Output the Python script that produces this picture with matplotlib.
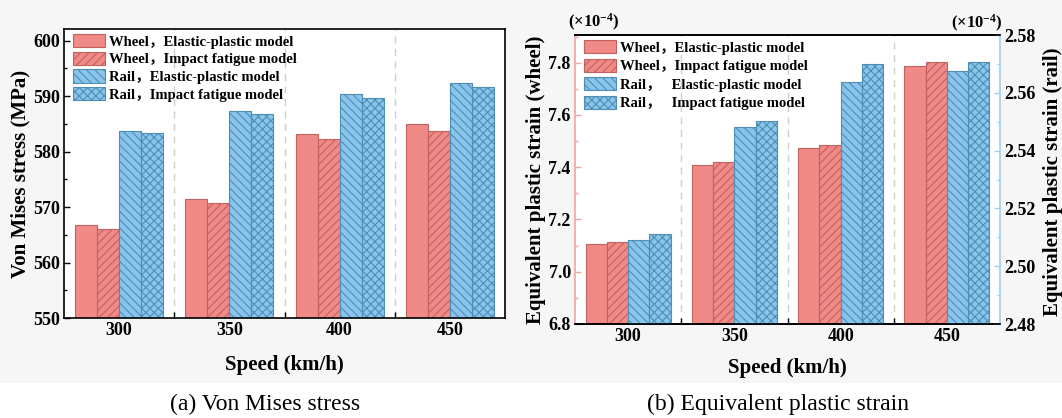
import matplotlib
matplotlib.use('Agg')
import matplotlib.pyplot as plt
import numpy as np
from matplotlib.patches import Rectangle, Patch
from matplotlib.ticker import MultipleLocator, FixedLocator, FormatStrFormatter

plt.rcParams['font.family'] = ['Liberation Serif', 'Noto Sans CJK SC']
plt.rcParams['mathtext.fontset'] = 'custom'
plt.rcParams['mathtext.rm'] = 'Liberation Serif'
plt.rcParams['mathtext.bf'] = 'Liberation Serif:bold'
plt.rcParams['mathtext.default'] = 'bf'
plt.rcParams['hatch.linewidth'] = 0.8

# ---------------- data ----------------
speeds = ['300', '350', '400', '450']
labels_a = ['Wheel，Elastic-plastic model', 'Wheel，Impact fatigue model',
            'Rail，Elastic-plastic model', 'Rail，Impact fatigue model']
labels_b = ['Wheel，Elastic-plastic model', 'Wheel，Impact fatigue model',
            'Rail，   Elastic-plastic model', 'Rail，   Impact fatigue model']

# (a) Von Mises stress (MPa)
stress_wheel_ep = [566.8, 571.4, 583.2, 585.0]
stress_wheel_if = [566.1, 570.7, 582.2, 583.7]
stress_rail_ep = [583.8, 587.3, 590.3, 592.4]
stress_rail_if = [583.3, 586.7, 589.7, 591.6]

# (b) Equivalent plastic strain (x1e-4)
strain_wheel_ep = [7.108, 7.410, 7.474, 7.786]
strain_wheel_if = [7.114, 7.420, 7.484, 7.803]
strain_rail_ep = [2.5091, 2.5480, 2.5639, 2.5676]
strain_rail_if = [2.5110, 2.5501, 2.5699, 2.5708]

# ---------------- style ----------------
W = 1062.0
H = 418.0
wheel_fc = '#F08A87'
wheel_ec = '#C0625F'
rail_fc = '#88C4EC'
rail_ec = '#4F8DB3'
pink_spine = '#F4A3A3'
blue_spine = '#9FD0F3'
hatches = [None, '////', '\\\\\\\\', 'xxxx']
fcs = [wheel_fc, wheel_fc, rail_fc, rail_fc]
ecs = [wheel_ec, wheel_ec, rail_ec, rail_ec]
offsets = [-0.3, -0.1, 0.1, 0.3]
bw = 0.2
TICK = 13
LAB = 15
LEG = 10.5

fig = plt.figure(figsize=(W / 100, H / 100), dpi=100, facecolor='white')
fig.patches.append(Rectangle((0, 1 - 383 / H), 1, 383 / H, transform=fig.transFigure,
                             facecolor='#f6f6f6', edgecolor='none', zorder=-10))


def px(x0, y0, x1, y1):
    return [x0 / W, 1 - y1 / H, (x1 - x0) / W, (y1 - y0) / H]


x = np.arange(len(speeds))


def common_x(ax):
    ax.set_xlim(-0.5, 3.5)
    ax.set_xticks(x)
    ax.set_xticklabels(speeds, fontsize=TICK, fontweight='bold')
    ax.xaxis.set_minor_locator(FixedLocator([0.5, 1.5, 2.5]))
    ax.tick_params(axis='x', which='major', length=0, pad=3)
    ax.tick_params(axis='x', which='minor', direction='in', length=4, width=1)
    for b in [0.5, 1.5, 2.5]:
        ax.axvline(b, color='#cfcfcf', lw=1.0, ls=(0, (5, 4)), zorder=0.5)


# ---------------- panel (a) ----------------
ax = fig.add_axes(px(64, 29, 505, 318))
ax.set_facecolor('white')
vals_a = [stress_wheel_ep, stress_wheel_if, stress_rail_ep, stress_rail_if]
for i in range(4):
    ax.bar(x + offsets[i], vals_a[i], bw, color=fcs[i], edgecolor=ecs[i],
           hatch=hatches[i], linewidth=0.8, zorder=2)
ax.set_ylim(550, 602.1)
ax.yaxis.set_major_locator(MultipleLocator(10))
ax.yaxis.set_minor_locator(MultipleLocator(5))
ax.tick_params(axis='y', which='major', direction='in', length=4, width=1, pad=3, labelsize=TICK)
ax.tick_params(axis='y', which='minor', direction='in', length=2.5, width=1)
for lab in ax.get_yticklabels():
    lab.set_fontweight('bold')
common_x(ax)
for s in ax.spines.values():
    s.set_linewidth(1.2)
    s.set_color('black')

handles_a = [Patch(facecolor=fcs[i], edgecolor=ecs[i], hatch=hatches[i], linewidth=0.8, label=labels_a[i])
             for i in range(4)]
ax.legend(handles=handles_a, loc='upper left', bbox_to_anchor=(72.5 / W, 1 - 34 / H),
          bbox_transform=fig.transFigure, frameon=False, borderpad=0, borderaxespad=0,
          prop={'size': LEG, 'weight': 'bold'}, handlelength=2.2, handleheight=1.0,
          handletextpad=0.3, labelspacing=0.22)

fig.text(284.5 / W, 1 - 365 / H, 'Speed (km/h)', ha='center', va='center', fontsize=LAB, fontweight='bold')
fig.text(20 / W, 1 - 174 / H, 'Von Mises stress (MPa)', ha='center', va='center', rotation=90,
         fontsize=LAB, fontweight='bold')
fig.text(265 / W, 1 - 404 / H, '(a) Von Mises stress', ha='center', va='center', fontsize=17)

# ---------------- panel (b) ----------------
bx = fig.add_axes(px(575, 35, 1000, 324))
bx.set_facecolor('white')
bx2 = bx.twinx()
vals_w = [strain_wheel_ep, strain_wheel_if]
vals_r = [strain_rail_ep, strain_rail_if]
for i in range(2):
    bx.bar(x + offsets[i], vals_w[i], bw, color=fcs[i], edgecolor=ecs[i],
           hatch=hatches[i], linewidth=0.8, zorder=2)
for j in range(2):
    i = j + 2
    bx2.bar(x + offsets[i], vals_r[j], bw, color=fcs[i], edgecolor=ecs[i],
            hatch=hatches[i], linewidth=0.8, zorder=2)
bx.set_ylim(6.8, 7.906)
bx2.set_ylim(2.48, 2.58)
bx.yaxis.set_major_locator(MultipleLocator(0.2))
bx.yaxis.set_minor_locator(MultipleLocator(0.1))
bx2.yaxis.set_major_locator(MultipleLocator(0.02))
bx2.yaxis.set_minor_locator(MultipleLocator(0.01))
bx.yaxis.set_major_formatter(FormatStrFormatter('%.1f'))
bx2.yaxis.set_major_formatter(FormatStrFormatter('%.2f'))
bx.tick_params(axis='y', which='major', direction='in', length=4, width=1, pad=3,
               labelsize=TICK, color=pink_spine)
bx.tick_params(axis='y', which='minor', direction='in', length=2.5, width=1, color=pink_spine)
bx2.tick_params(axis='y', which='major', direction='in', length=4, width=1, pad=3,
                labelsize=TICK, color=blue_spine)
bx2.tick_params(axis='y', which='minor', direction='in', length=2.5, width=1, color=blue_spine)
for lab in bx.get_yticklabels() + bx2.get_yticklabels():
    lab.set_fontweight('bold')
common_x(bx)
bx2.set_xlim(-0.5, 3.5)
for s in ['top', 'bottom']:
    bx.spines[s].set_color('black')
    bx.spines[s].set_linewidth(1.2)
    bx2.spines[s].set_color('black')
    bx2.spines[s].set_linewidth(1.2)
bx.spines['left'].set_color(pink_spine)
bx.spines['left'].set_linewidth(1.2)
bx.spines['right'].set_visible(False)
bx2.spines['left'].set_visible(False)
bx2.spines['right'].set_color(blue_spine)
bx2.spines['right'].set_linewidth(1.2)

handles_b = [Patch(facecolor=fcs[i], edgecolor=ecs[i], hatch=hatches[i], linewidth=0.8, label=labels_b[i])
             for i in range(4)]
bx2.legend(handles=handles_b, loc='upper left', bbox_to_anchor=(584 / W, 1 - 40 / H),
           bbox_transform=fig.transFigure, frameon=False, borderpad=0, borderaxespad=0,
           prop={'size': LEG, 'weight': 'bold'}, handlelength=2.2, handleheight=1.0,
           handletextpad=0.3, labelspacing=0.28)

fig.text(594 / W, 1 - 22 / H, '(×10$^{-4}$)', ha='center', va='center', fontsize=12, fontweight='bold')
fig.text(977 / W, 1 - 23 / H, '(×10$^{-4}$)', ha='center', va='center', fontsize=12, fontweight='bold')
fig.text(787.5 / W, 1 - 368 / H, 'Speed (km/h)', ha='center', va='center', fontsize=LAB, fontweight='bold')
fig.text(536 / W, 1 - 180 / H, 'Equivalent plastic strain (wheel)', ha='center', va='center',
         rotation=90, fontsize=LAB, fontweight='bold')
fig.text(1053 / W, 1 - 182 / H, 'Equivalent plastic strain (rail)', ha='center', va='center',
         rotation=90, fontsize=LAB, fontweight='bold')
fig.text(778 / W, 1 - 404 / H, '(b) Equivalent plastic strain', ha='center', va='center', fontsize=17)

fig.savefig('out.png', dpi=100, facecolor='white')
